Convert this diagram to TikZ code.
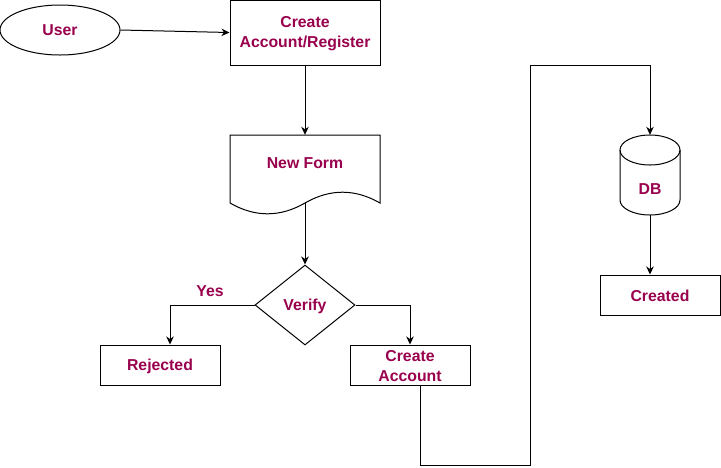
\documentclass[tikz,border=0pt]{standalone}
\usepackage{fontspec}
\setmainfont{Liberation Sans}
\usetikzlibrary{arrows.meta,shapes.geometric}
\definecolor{txt}{RGB}{153,0,77}
\tikzset{
  lbl/.style={text=txt,font=\bfseries\fontsize{15.8}{20}\selectfont,align=center,inner sep=0pt},
  boxnode/.style={lbl,draw=black,line width=1pt,rectangle,minimum width=120pt,minimum height=40pt},
  arr/.style={draw=black,line width=1pt,-{Stealth[length=8pt,width=7.5pt,inset=2.5pt]}},
  shp/.style={draw=black,line width=1pt}
}
\begin{document}
\begin{tikzpicture}[x=1pt,y=-1pt]
\useasboundingbox[fill=white] (0,0) rectangle (721,467);
% user
\node[lbl,draw=black,line width=1pt,ellipse,minimum width=120pt,minimum height=50pt] (user) at (60,30) {User};
% register
\node[boxnode,minimum width=150pt,minimum height=65pt] (reg) at (305,32.5) {};
\node[lbl] (regtxt) at (305,34) {Create\\Account/Register};
% new form document
\node[lbl,minimum width=150pt,minimum height=80pt] (form) at (305,175) {};
\draw[shp] (230,135) -- (380,135) -- (380,203) .. controls (355,188.6) and (330,188.6) .. (305,203)
  .. controls (280,217.4) and (255,217.4) .. (230,203) -- cycle;
\node[lbl] (formtxt) at (305,163.5) {New Form};
\coordinate (formout) at (305,203);
% verify
\node[lbl,draw=black,line width=1pt,diamond,minimum width=100pt,minimum height=80pt] (verify) at (305,305) {};
\node[lbl] (verifytxt) at (305,306) {Verify};
\node[lbl] (yes) at (210,291) {Yes};
% rejected, create account
\node[boxnode] (rej) at (160,365) {};
\node[lbl] (rejtxt) at (160,366) {Rejected};
\node[boxnode] (ca) at (410,365) {};
\node[lbl] (catxt) at (410,366) {Create\\Account};
% DB cylinder
\node[lbl,minimum width=60pt,minimum height=80pt] (db) at (650,175) {};
\draw[shp] (620,150) -- (620,200) .. controls (620,208.28) and (633.43,215) .. (650,215)
  .. controls (666.57,215) and (680,208.28) .. (680,200) -- (680,150);
\draw[shp] (650,150) ellipse [x radius=30pt, y radius=15pt];
\node[lbl] (dbtxt) at (650,189) {DB};
% created
\node[boxnode] (created) at (660,295) {};
\node[lbl] (createdtxt) at (660,296) {Created};
% connectors
\coordinate (b1) at (530,465);
\coordinate (t1) at (530,65);
\draw[arr] (user.east) -- (reg.west);
\draw[arr] (reg.south) -- (form.north);
\draw[arr] (formout) -- (verify.north);
\draw[arr] (verify.west) -| ([xshift=10pt]rej.north);
\draw[arr] (verify.east) -| (ca.north);
\draw[arr] ([xshift=10pt]ca.south) |- (b1) -- (t1) -| (db.north);
\draw[arr] (db.south) -- (db.south |- created.north);
\end{tikzpicture}
\end{document}
